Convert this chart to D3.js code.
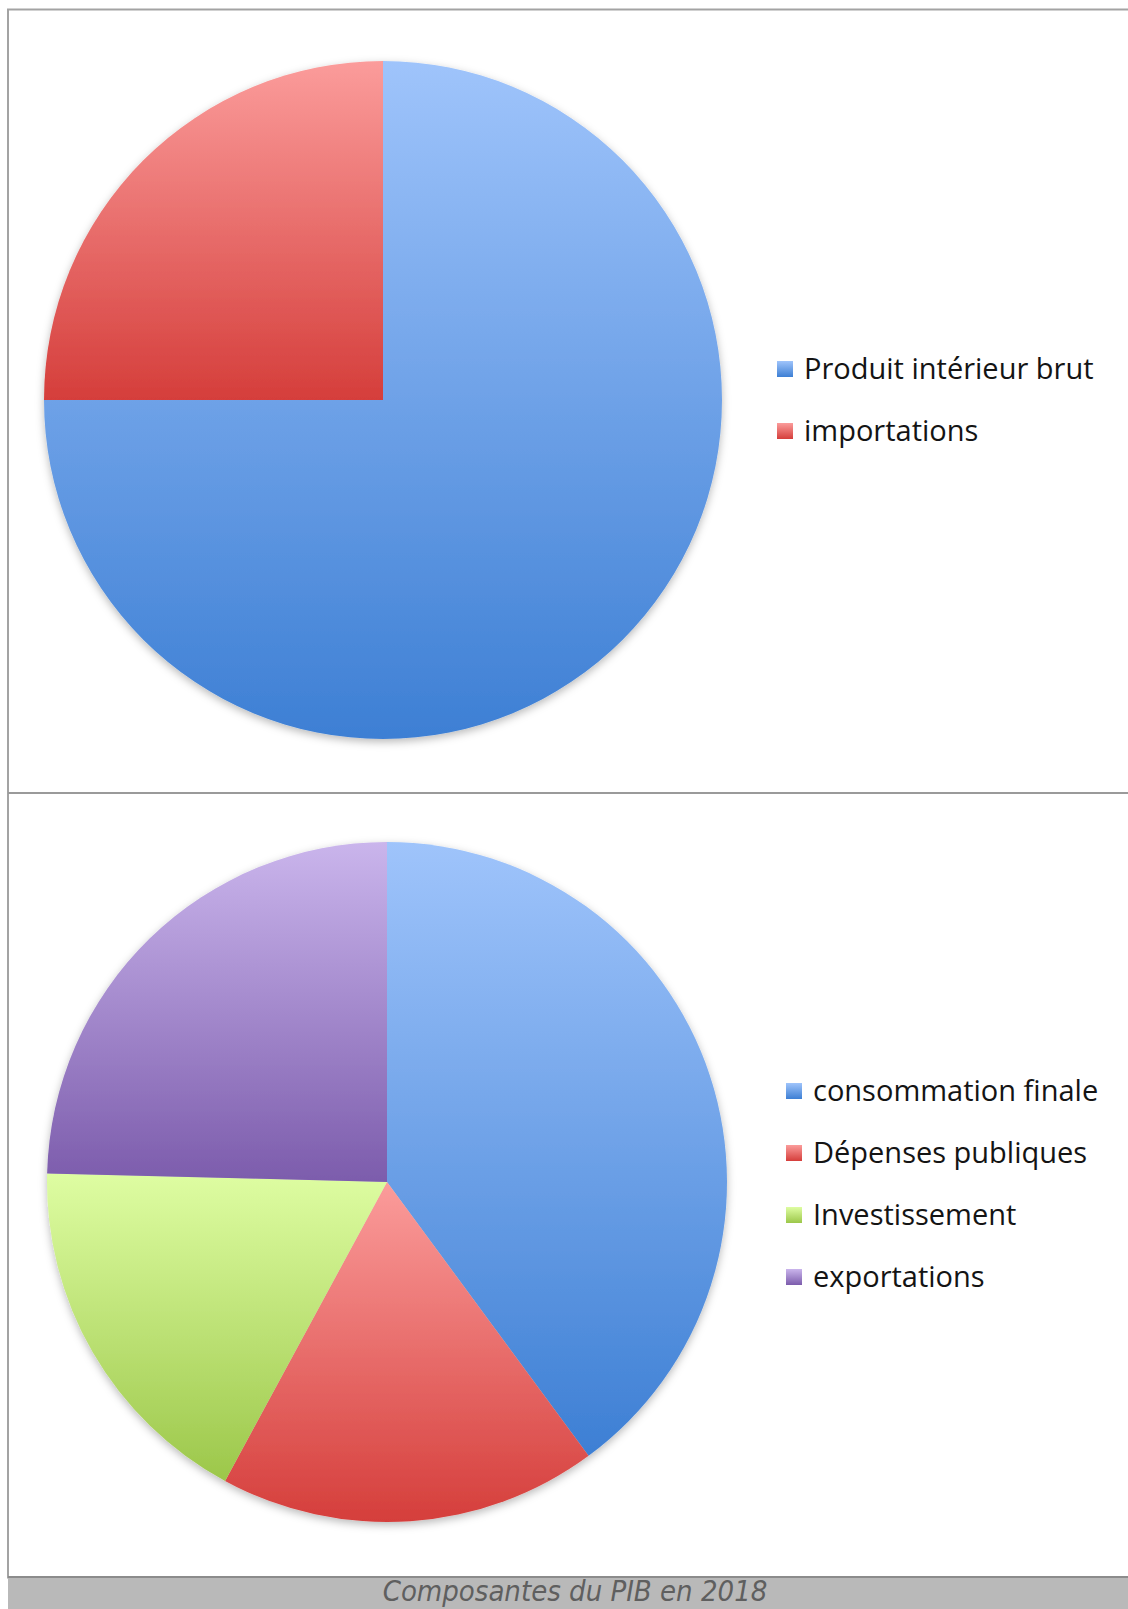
<!DOCTYPE html>
<html>
<head>
<meta charset="utf-8">
<script src="https://cdn.jsdelivr.net/npm/d3@7"></script>
<style>
  body { margin: 0; background: #fff; }
  svg { display: block; }
</style>
</head>
<body>
<svg id="chart" width="1128" height="1609"></svg>
<script>
// data
const topLabels = ['Produit intérieur brut', 'importations']
const topValues = [75, 25]
const bottomLabels = ['consommation finale', 'Dépenses publiques', 'Investissement', 'exportations']
const bottomValues = [39.9, 18.0, 17.5, 24.6]
const caption = 'Composantes du PIB en 2018'

// colours: [top of gradient, bottom of gradient]
const colors = {
    blue: ['#9fc4fb', '#3d7fd4'],
    red: ['#fb9c9b', '#d53e3b'],
    green: ['#defda2', '#9cc74a'],
    purple: ['#cab5ec', '#7c5cac']
}
const topColors = ['blue', 'red']
const bottomColors = ['blue', 'red', 'green', 'purple']

const width = 1128
const height = 1609
const svg = d3.select('#chart')

const defs = svg.append('defs')
Object.keys(colors).forEach(k => {
    const g = defs.append('linearGradient')
        .attr('id', 'grad-' + k)
        .attr('x1', 0).attr('y1', 0).attr('x2', 0).attr('y2', 1)
    g.append('stop').attr('offset', '0%').attr('stop-color', colors[k][0])
    g.append('stop').attr('offset', '100%').attr('stop-color', colors[k][1])
})
const shadow = defs.append('filter').attr('id', 'shadow')
    .attr('x', '-10%').attr('y', '-10%').attr('width', '120%').attr('height', '120%')
shadow.append('feDropShadow')
    .attr('dx', 0).attr('dy', 3).attr('stdDeviation', 4)
    .attr('flood-color', '#000').attr('flood-opacity', 0.28)

// frame
svg.append('rect')
    .attr('x', 8).attr('y', 9.5)
    .attr('width', width + 10).attr('height', 1568)
    .attr('fill', '#fff').attr('stroke', '#a3a3a3').attr('stroke-width', 2)
svg.append('line')
    .attr('x1', 8).attr('x2', width).attr('y1', 793).attr('y2', 793)
    .attr('stroke', '#9a9a9a').attr('stroke-width', 2)

// caption band
svg.append('rect')
    .attr('x', 8).attr('y', 1577)
    .attr('width', width).attr('height', height - 1577)
    .attr('fill', '#b9b9b9')
svg.append('line')
    .attr('x1', 8).attr('x2', width).attr('y1', 1577).attr('y2', 1577)
    .attr('stroke', '#8c8c8c').attr('stroke-width', 2)
svg.append('text')
    .attr('x', 575).attr('y', 1601)
    .attr('text-anchor', 'middle')
    .attr('font-family', 'DejaVu Sans Condensed, DejaVu Sans, sans-serif')
    .attr('font-style', 'italic')
    .attr('font-size', 29)
    .attr('fill', '#5f5f5f')
    .text(caption)

function drawPie(values, labels, cols, cx, cy, r, legendX, legendY) {
    const pie = d3.pie().sort(null)(values)
    const arc = d3.arc().innerRadius(0).outerRadius(r)
    const g = svg.append('g')
        .attr('transform', `translate(${cx},${cy})`)
        .attr('filter', 'url(#shadow)')
    g.selectAll('path')
        .data(pie)
        .enter()
        .append('path')
        .attr('d', arc)
        .attr('fill', (d, i) => `url(#grad-${cols[i]})`)

    // legend
    const step = 62
    const lg = svg.append('g').attr('transform', `translate(${legendX},${legendY})`)
    const item = lg.selectAll('g')
        .data(labels)
        .enter()
        .append('g')
        .attr('transform', (d, i) => `translate(0,${i * step})`)
    item.append('rect')
        .attr('x', 0).attr('y', -8)
        .attr('width', 16).attr('height', 16)
        .attr('fill', (d, i) => `url(#grad-${cols[i]})`)
    item.append('text')
        .attr('x', 27).attr('y', 10)
        .attr('font-family', '"Open Sans", Lato, sans-serif')
        .attr('font-size', 29)
        .attr('fill', '#141414')
        .text(d => d)
}

drawPie(topValues, topLabels, topColors, 383, 400, 339, 777, 369)
drawPie(bottomValues, bottomLabels, bottomColors, 387, 1182, 340, 786, 1091)
</script>
</body>
</html>
